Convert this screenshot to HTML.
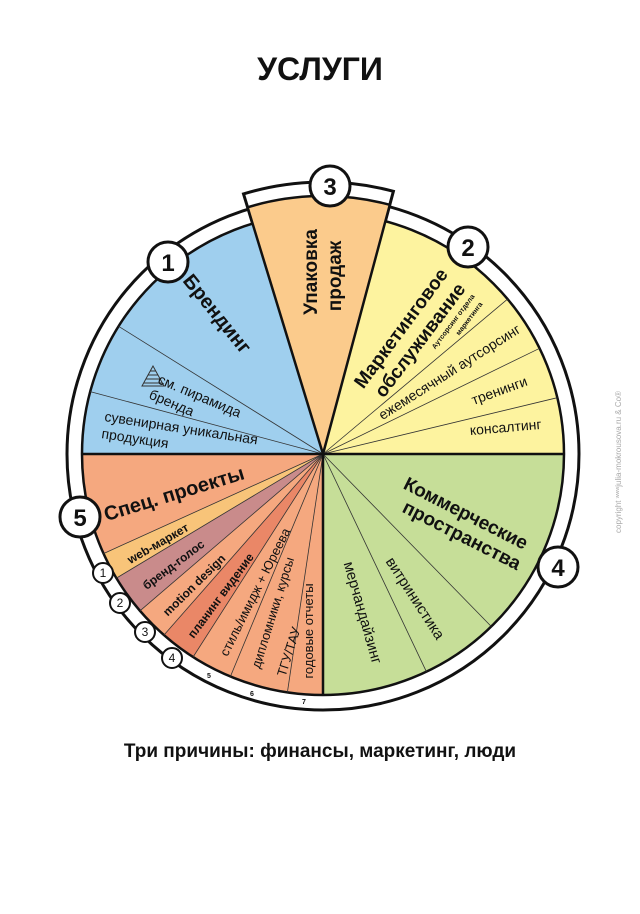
<!DOCTYPE html>
<html><head><meta charset="utf-8"><style>
html,body{margin:0;padding:0;background:#fff;width:640px;height:914px;overflow:hidden}
svg{display:block}
text{font-family:"Liberation Sans","DejaVu Sans",sans-serif;fill:#111}
.b{font-weight:bold}
</style></head><body>
<svg width="640" height="914" viewBox="0 0 640 914" xmlns="http://www.w3.org/2000/svg">
<text x="320" y="80" text-anchor="middle" class="b" font-size="32">УСЛУГИ</text>

<!-- outer ring -->
<circle cx="323" cy="454" r="256" fill="#fff" stroke="#111" stroke-width="3"/>
<path d="M323,454 L393.4,191.3 A272 272 0 0 0 243.5,193.9 Z" fill="#fff" stroke="#111" stroke-width="3"/>

<!-- main wedges -->
<path d="M323,454 L252.5,223.5 A241 241 0 0 0 82,454 Z" fill="#9fcfee"/>
<path d="M323,454 L564,454 A241 241 0 0 0 385.4,221.2 Z" fill="#fdf39f"/>
<path d="M323,454 L323,695 A241 241 0 0 0 564,454 Z" fill="#c6de98"/>
<path d="M323,454 L82,454 A241 241 0 0 0 323,695 Z" fill="#f5a87f"/>
<path d="M323,454 L103.5,553.6 A241 241 0 0 0 116.4,578.1 Z" fill="#f8c479"/>
<path d="M323,454 L116.4,578.1 A241 241 0 0 0 140,610.8 Z" fill="#c98b8b"/>
<path d="M323,454 L163.9,635.1 A241 241 0 0 0 193.1,657 Z" fill="#ea8767"/>
<circle cx="323" cy="454" r="241" fill="none" stroke="#111" stroke-width="2.5"/>
<path d="M323,454 L389.8,204.8 A258 258 0 0 0 247.6,207.3 Z" fill="#fbcb8c" stroke="#111" stroke-width="2.5"/>

<!-- thin lines -->
<g stroke="#333" stroke-width="0.8">
<line x1="323" y1="454" x2="118.6" y2="326.3"/>
<line x1="323" y1="454" x2="90.2" y2="391.6"/>
<line x1="323" y1="454" x2="507.6" y2="299.1"/>
<line x1="323" y1="454" x2="539.6" y2="348.3"/>
<line x1="323" y1="454" x2="557.3" y2="397.7"/>
<line x1="323" y1="454" x2="491.3" y2="626.5"/>
<line x1="323" y1="454" x2="426.4" y2="671.7"/>
<line x1="323" y1="454" x2="103.5" y2="553.6"/>
<line x1="323" y1="454" x2="116.4" y2="578.1"/>
<line x1="323" y1="454" x2="140" y2="610.8"/>
<line x1="323" y1="454" x2="163.9" y2="635.1"/>
<line x1="323" y1="454" x2="193.1" y2="657"/>
<line x1="323" y1="454" x2="230.4" y2="676.5"/>
<line x1="323" y1="454" x2="287.4" y2="692.3"/>
</g>
<g stroke="#111" stroke-width="2.5">
<line x1="323" y1="454" x2="82" y2="454"/>
<line x1="323" y1="454" x2="564" y2="454"/>
<line x1="323" y1="454" x2="323" y2="695"/>
</g>

<!-- pyramid -->
<g stroke="#333" stroke-width="1" fill="none">
<path d="M153,366 L142,386 L164,386 Z"/>
<line x1="150" y1="371" x2="156" y2="371"/><line x1="148" y1="375" x2="158" y2="375"/>
<line x1="146" y1="379" x2="160" y2="379"/><line x1="144" y1="383" x2="162" y2="383"/>
</g>

<!-- texts -->
<text transform="translate(212,318) rotate(51)" text-anchor="middle" class="b" font-size="20">Брендинг</text>
<text transform="translate(157,383) rotate(23)" font-size="14">см. пирамида</text>
<text transform="translate(148,398) rotate(23)" font-size="14">бренда</text>
<text transform="translate(104,421) rotate(8.7)" font-size="14">сувенирная уникальная</text>
<text transform="translate(101,438) rotate(8.7)" font-size="14">продукция</text>

<text transform="translate(317,272) rotate(-90)" text-anchor="middle" class="b" font-size="19">Упаковка</text>
<text transform="translate(341,276) rotate(-90)" text-anchor="middle" class="b" font-size="19">продаж</text>

<text transform="translate(406,332) rotate(-53.5)" text-anchor="middle" class="b" font-size="19">Маркетинговое</text>
<text transform="translate(425,344) rotate(-53)" text-anchor="middle" class="b" font-size="19">обслуживание</text>
<text transform="translate(455,323) rotate(-53)" text-anchor="middle" class="b" font-size="7">Аутсорсинг отдела</text>
<text transform="translate(471,320) rotate(-53)" text-anchor="middle" class="b" font-size="7">маркетинга</text>
<text transform="translate(452,376) rotate(-32.5)" text-anchor="middle" font-size="14">ежемесячный аутсорсинг</text>
<text transform="translate(501,395) rotate(-20)" text-anchor="middle" font-size="14">тренинги</text>
<text transform="translate(506,432) rotate(-5)" text-anchor="middle" font-size="14">консалтинг</text>

<text transform="translate(463,519) rotate(27)" text-anchor="middle" class="b" font-size="19">Коммерческие</text>
<text transform="translate(459,541) rotate(27)" text-anchor="middle" class="b" font-size="19">пространства</text>
<text transform="translate(411,601) rotate(57)" text-anchor="middle" font-size="15">витринистика</text>
<text transform="translate(358,614) rotate(74)" text-anchor="middle" font-size="15">мерчандайзинг</text>

<text transform="translate(176,500) rotate(-17)" text-anchor="middle" class="b" font-size="20">Спец. проекты</text>
<text transform="translate(160,547) rotate(-30)" text-anchor="middle" class="b" font-size="12">web-маркет</text>
<text transform="translate(176,568) rotate(-37)" text-anchor="middle" class="b" font-size="12">бренд-голос</text>
<text transform="translate(197,588) rotate(-44.5)" text-anchor="middle" class="b" font-size="12">motion design</text>
<text transform="translate(224,598) rotate(-53.5)" text-anchor="middle" class="b" font-size="12">планинг видение</text>
<text transform="translate(259,594) rotate(-63.4)" text-anchor="middle" font-size="13">стиль/имидж + Юреева</text>
<text transform="translate(277,614) rotate(-72.6)" text-anchor="middle" font-size="13">дипломники, курсы</text>
<text transform="translate(293,653) rotate(-72.6)" text-anchor="middle" font-size="13">ТГУ/ТАУ</text>
<text transform="translate(313,631) rotate(-90)" text-anchor="middle" font-size="13">годовые отчеты</text>

<!-- ring small numbers -->
<text x="209" y="678" font-size="7" text-anchor="middle" class="b">5</text>
<text x="252" y="696" font-size="7" text-anchor="middle" class="b">6</text>
<text x="304" y="704" font-size="7" text-anchor="middle" class="b">7</text>

<!-- big circles -->
<g fill="#fff" stroke="#111" stroke-width="3">
<circle cx="168" cy="262" r="20"/><circle cx="330" cy="186" r="20"/>
<circle cx="468" cy="247" r="20"/><circle cx="558" cy="567" r="20"/>
<circle cx="80" cy="517" r="20"/>
</g>
<g class="b" font-size="24" text-anchor="middle">
<text x="168" y="271" class="b">1</text><text x="330" y="195" class="b">3</text>
<text x="468" y="256" class="b">2</text><text x="558" y="576" class="b">4</text>
<text x="80" y="526" class="b">5</text>
</g>
<!-- small circles -->
<g fill="#fff" stroke="#111" stroke-width="2">
<circle cx="103" cy="573" r="10"/><circle cx="120" cy="603" r="10"/>
<circle cx="145" cy="632" r="10"/><circle cx="172" cy="658" r="10"/>
</g>
<g font-size="12" text-anchor="middle">
<text x="103" y="577">1</text><text x="120" y="607">2</text>
<text x="145" y="636">3</text><text x="172" y="662">4</text>
</g>

<text transform="translate(621,462) rotate(-90)" text-anchor="middle" font-size="8" style="fill:#aaa">copyright ʷʷʷjulia-mokrousova.ru &amp; Co®</text>

<text x="320" y="757" text-anchor="middle" class="b" font-size="19">Три причины: финансы, маркетинг, люди</text>
</svg>
</body></html>
